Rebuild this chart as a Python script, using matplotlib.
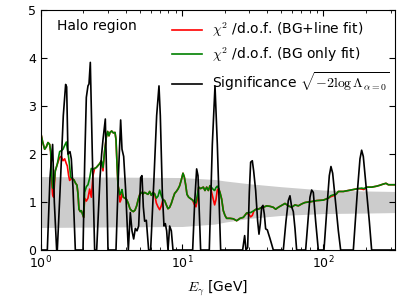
import matplotlib
matplotlib.use("Agg")
import matplotlib.pyplot as plt

plt.rcParams["mathtext.fontset"] = "cm"
plt.rcParams["font.size"] = 10

# significance sqrt(-2 log Lambda) vs energy [GeV]
sig_e = [1.00, 1.109, 1.158, 1.209, 1.243, 1.291,
         1.305, 1.363, 1.439, 1.495, 1.520, 1.553, 1.605, 1.640, 1.685, 1.751,
         1.985, 2.039, 2.095, 2.152, 2.188, 2.236, 2.310, 2.400,
         2.480, 2.618, 2.690, 2.750, 2.856, 2.919, 2.983,
         3.399, 3.530, 3.668, 3.749, 3.852, 3.980, 4.156,
         4.294, 4.413, 4.535, 4.660, 4.788, 4.920, 5.082, 5.194, 5.308, 5.425, 5.575, 5.790,
         5.982, 6.317, 6.598, 6.854, 7.004, 7.237, 7.436, 7.600, 7.767, 7.938,
         8.157, 8.382, 8.613,
         11.87, 12.27, 12.67, 12.95, 13.52,
         15.57, 16.36, 17.09, 17.75, 18.74,
         26.83, 27.72, 28.33, 29.11, 29.91, 30.57, 31.41, 32.10, 33.17, 34.27, 35.02,
         35.79, 36.58, 37.38, 38.20, 39.04, 40.12, 40.78, 41.90, 43.06, 44.24,
         52.09, 54.40, 56.50, 58.06, 59.66, 61.31, 63.00, 64.73,
         74.98, 78.32, 80.47, 82.69, 84.96, 88.25, 92.18,
         101.1, 106.8, 110.3, 113.3, 116.5, 123.0, 127.8, 132.7,
         163.2, 174.1, 181.9, 186.9, 192.0, 202.8, 211.8, 220.0,
         322.0]
sig_val = [0, 0, 1.5, 2.2, 1.0, 0,
           0, 1.2, 2.8, 3.45, 3.4, 2.0, 2.05, 1.9, 1.3, 0,
           0, 1.8, 3.18, 3.42, 3.46, 3.91, 2.0, 0,
           0, 1.5, 2.0, 2.3, 2.73, 1.5, 0,
           0, 1.5, 2.71, 2.1, 1.95, 1.24, 0,
           0.78, 0.40, 0.23, 0.45, 0.40, 0.5, 1.51, 1.55, 0.9, 0.6, 0.62, 0,
           0, 1.5, 2.8, 3.42, 2.8, 1.2, 0.5, 0.55, 0.4, 0,
           0.5, 0.4, 0,
           0, 1.0, 1.69, 1.55, 0,
           0, 2.2, 3.42, 2.2, 0,
           0, 0.3, 0, 0.05, 1.2, 1.83, 1.86, 1.65, 1.24, 0.6, 0.33,
           0.55, 0.89, 0.93, 0.75, 0.44, 0.42, 0.35, 0.24, 0.12, 0,
           0, 0.6, 1.03, 1.13, 0.9, 0.8, 0.45, 0,
           0, 0.7, 1.1, 1.25, 1.2, 0.6, 0,
           0, 1.0, 1.55, 1.74, 1.6, 0.9, 0.4, 0,
           0, 1.2, 1.9, 2.08, 1.95, 1.2, 0.6, 0,
           0]

# chi2/dof curves
chi_e = [1.000, 1.028, 1.062, 1.091, 1.121, 1.152, 1.171, 1.190, 1.209, 1.229,
         1.263, 1.305, 1.356, 1.393, 1.432, 1.472, 1.512, 1.537, 1.570, 1.596,
         1.623, 1.658, 1.713, 1.751, 1.799, 1.829, 1.858, 1.899, 1.931, 1.985,
         2.006, 2.039, 2.095, 2.152, 2.212, 2.273, 2.335, 2.400, 2.466, 2.534,
         2.604, 2.676, 2.750, 2.825, 2.903, 2.967, 3.031, 3.083, 3.168, 3.255,
         3.345, 3.400, 3.455, 3.512, 3.569, 3.628, 3.687, 3.748, 3.831, 3.936,
         4.045, 4.156, 4.270, 4.388, 4.509, 4.634, 4.761, 4.892, 5.000, 5.138,
         5.280, 5.425, 5.575, 5.729, 5.887, 6.048, 6.215, 6.387, 6.561, 6.743,
         6.929, 7.119, 7.316, 7.516, 7.725, 7.938, 8.157, 8.382, 8.613, 8.850,
         9.094, 9.343, 9.601, 9.865, 10.14, 10.36, 10.59, 10.82, 11.12, 11.49,
         11.87, 12.20, 12.53, 12.81, 13.09, 13.52, 14.13, 14.51, 14.92, 15.33,
         15.75, 16.18, 16.63, 16.99, 17.36, 17.75, 18.14, 18.54, 19.05, 19.57,
         20.11, 20.66, 21.83, 23.04, 24.33, 25.69, 27.13, 28.64, 29.75, 30.57,
         31.41, 32.28, 33.35, 34.64, 36.18, 37.58, 39.69, 41.90, 44.24, 45.96,
         48.01, 50.69, 53.54, 56.50, 59.66, 63.00, 66.52, 70.24, 74.16, 78.32,
         82.69, 89.73, 100.0, 108.5, 112.7, 117.8, 123.0, 127.8, 138.6, 150.3,
         163.2, 177.0, 186.9, 194.1, 202.8, 220.0, 238.7, 252.0, 263.3, 278.0,
         288.8, 304.9, 322.0]
chi_bg = [2.42, 2.25, 2.10, 2.15, 2.24, 2.20, 2.05, 1.60, 1.30, 1.28,
          1.65, 1.79, 2.05, 2.07, 2.10, 2.18, 2.25, 2.10, 1.93, 1.75,
          1.52, 1.49, 1.46, 1.40, 1.35, 1.17, 0.85, 0.80, 0.82, 0.72,
          0.68, 1.20, 1.32, 1.36, 1.50, 1.70, 1.68, 1.70, 1.72, 1.76,
          1.80, 1.86, 1.72, 2.07, 2.35, 2.47, 2.38, 2.45, 2.48, 2.44,
          2.45, 2.30, 1.80, 1.35, 1.24, 1.15, 1.20, 1.26, 1.10, 1.08,
          1.05, 0.97, 0.86, 0.82, 0.80, 0.83, 0.92, 1.06, 1.15, 1.20,
          1.17, 1.20, 1.18, 1.16, 1.22, 1.14, 1.20, 1.17, 1.08, 1.12,
          1.25, 1.13, 1.05, 1.03, 0.94, 0.86, 0.89, 0.97, 1.08, 1.18,
          1.22, 1.27, 1.34, 1.46, 1.60, 1.52, 1.36, 1.16, 1.10, 1.07,
          1.04, 1.00, 0.98, 1.15, 1.31, 1.28, 1.31, 1.24, 1.31, 1.24,
          1.34, 1.30, 1.26, 1.24, 1.30, 1.33, 1.28, 1.20, 1.06, 0.82,
          0.72, 0.66, 0.66, 0.65, 0.61, 0.66, 0.68, 0.77, 0.78, 0.78,
          0.80, 0.82, 0.85, 0.85, 0.88, 0.89, 0.92, 0.91, 0.89, 0.85,
          0.89, 0.93, 0.97, 0.92, 0.89, 0.94, 0.92, 0.96, 0.99, 1.00,
          1.01, 1.03, 1.04, 1.08, 1.13, 1.15, 1.16, 1.22, 1.22, 1.24,
          1.26, 1.28, 1.29, 1.28, 1.31, 1.31, 1.33, 1.35, 1.37, 1.39,
          1.36, 1.36, 1.36]
chi_line = [2.42, 2.25, 2.10, 2.15, 2.24, 2.20, 2.05, 1.45, 1.15, 1.10,
            1.65, 1.79, 1.93, 1.95, 1.86, 1.90, 1.80, 1.75, 1.55, 1.45,
            1.48, 1.49, 1.46, 1.40, 1.35, 1.17, 0.85, 0.80, 0.82, 0.72,
            0.68, 1.08, 1.02, 1.08, 1.27, 1.10, 1.55, 1.70, 1.72, 1.76,
            1.80, 1.86, 1.65, 2.07, 2.35, 2.47, 2.38, 2.45, 2.48, 2.44,
            2.45, 2.30, 1.80, 1.35, 1.24, 1.00, 1.05, 1.18, 1.10, 1.08,
            1.05, 0.97, 0.86, 0.82, 0.80, 0.83, 0.92, 1.06, 1.15, 1.20,
            1.17, 1.20, 1.18, 1.16, 1.22, 1.14, 1.20, 1.17, 0.98, 0.90,
            0.84, 0.92, 1.05, 1.03, 0.94, 0.86, 0.89, 0.97, 1.08, 1.18,
            1.22, 1.27, 1.34, 1.46, 1.60, 1.52, 1.36, 1.16, 1.10, 1.07,
            1.04, 0.95, 0.90, 1.05, 1.31, 1.28, 1.31, 1.24, 1.31, 1.24,
            1.34, 1.20, 1.05, 0.94, 1.05, 1.25, 1.28, 1.20, 1.06, 0.82,
            0.72, 0.66, 0.66, 0.65, 0.61, 0.66, 0.68, 0.77, 0.74, 0.69,
            0.72, 0.82, 0.85, 0.85, 0.88, 0.89, 0.92, 0.91, 0.89, 0.85,
            0.89, 0.93, 0.97, 0.92, 0.89, 0.94, 0.92, 0.96, 0.99, 1.00,
            1.01, 1.03, 1.04, 1.08, 1.11, 1.13, 1.16, 1.22, 1.22, 1.24,
            1.26, 1.28, 1.27, 1.26, 1.31, 1.31, 1.33, 1.35, 1.37, 1.39,
            1.36, 1.36, 1.36]

# expected chi2/dof band
band_e = [1.0, 10.0, 17.0, 20.0, 30.0, 50.0, 100.0, 200.0, 322.0]
band_lo = [0.47, 0.49, 0.54, 0.58, 0.66, 0.72, 0.76, 0.77, 0.78]
band_hi = [1.53, 1.51, 1.47, 1.44, 1.38, 1.32, 1.25, 1.23, 1.22]

fig = plt.figure(figsize=(4.07, 3.05), dpi=100)
ax = fig.add_axes([0.1007, 0.1803, 0.8698, 0.7867])

ax.fill_between(band_e, band_lo, band_hi, color="#cccccc", lw=0)
ax.plot(chi_e, chi_line, "r-", lw=1.2, label=r"$\chi^2$ /d.o.f. (BG+line fit)")
ax.plot(chi_e, chi_bg, "g-", lw=1.2, label=r"$\chi^2$ /d.o.f. (BG only fit)")
ax.plot(sig_e, sig_val, "k-", lw=1.2,
        label=r"Significance $\sqrt{-2\log\Lambda_{\alpha=0}}$")

ax.set_xscale("log")
ax.set_xlim(1, 322)
ax.set_ylim(0, 5)
ax.set_yticks([0, 1, 2, 3, 4, 5])
ax.set_xlabel(r"$E_\gamma$ [GeV]", labelpad=5)
ax.tick_params(which="both", direction="in", top=True, right=True, labelsize=9)
ax.tick_params(which="major", length=4)
ax.tick_params(which="minor", length=2)

ax.text(0.045, 0.933, "Halo region", transform=ax.transAxes, va="center")
ax.legend(loc="upper left", bbox_to_anchor=(0.37, 0.955), frameon=False,
          borderpad=0, borderaxespad=0, handlelength=2.15,
          handletextpad=0.7, labelspacing=0.45)

fig.savefig("out.png", dpi=100)
